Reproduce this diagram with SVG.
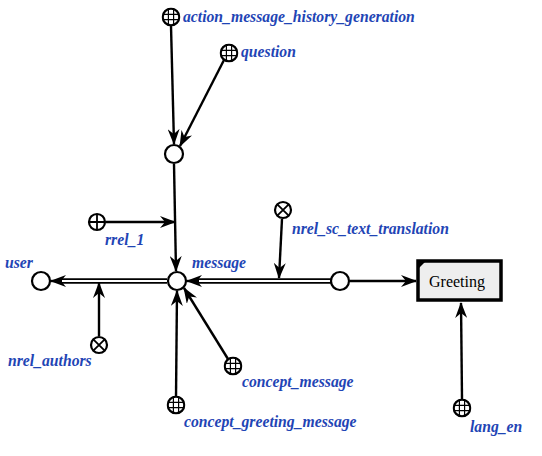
<svg xmlns="http://www.w3.org/2000/svg" width="542" height="456" viewBox="0 0 542 456">
<defs>
<style>
.lbl{font-family:"Liberation Serif","Times New Roman",serif;font-weight:bold;font-style:italic;font-size:15.7px;fill:#1f45b5}
.n{fill:#fff;stroke:#000;stroke-width:2.2}
.x{fill:none;stroke:#000;stroke-width:1.8}
.e{stroke:#000;stroke-width:2.4;fill:none}
.dbo{stroke:#000;stroke-width:5.5;fill:none}
.dbi{stroke:#fff;stroke-width:2;fill:none}
</style>
<marker id="ah" viewBox="0 0 16 12" refX="15" refY="6" markerWidth="16" markerHeight="12" markerUnits="userSpaceOnUse" orient="auto">
<path d="M0,0 L16,6 L0,12 L5,6 Z" fill="#000"/>
</marker>
<symbol id="grid" viewBox="-9.5 -9.5 19 19">
<circle r="8.3" fill="#fff" stroke="#000" stroke-width="2.2"/>
<path d="M-2.6,-7.8V7.8M2.6,-7.8V7.8M-7.8,-2.6H7.8M-7.8,2.6H7.8" stroke="#000" stroke-width="1.2"/>
</symbol>
</defs>
<rect width="542" height="456" fill="#fff"/>
<g id="connectors">
<line class="e" x1="171" y1="26" x2="174" y2="144" marker-end="url(#ah)"/>
<line class="e" x1="224" y1="60" x2="180" y2="146" marker-end="url(#ah)"/>
<line class="e" x1="174" y1="164" x2="176" y2="271" marker-end="url(#ah)"/>
<line class="e" x1="106" y1="222" x2="175" y2="222" marker-end="url(#ah)"/>
<line class="dbo" x1="167" y1="281" x2="60" y2="281"/>
<line class="dbi" x1="167" y1="281" x2="60" y2="281"/>
<line class="e" x1="62" y1="281" x2="51" y2="281" marker-end="url(#ah)"/>
<line class="e" x1="99" y1="336" x2="99" y2="283" marker-end="url(#ah)"/>
<line class="dbo" x1="331" y1="281" x2="197" y2="281"/>
<line class="dbi" x1="331" y1="281" x2="197" y2="281"/>
<line class="e" x1="199" y1="281" x2="187" y2="281" marker-end="url(#ah)"/>
<line class="e" x1="282" y1="219" x2="279" y2="278" marker-end="url(#ah)"/>
<line class="e" x1="350" y1="281" x2="416" y2="281" marker-end="url(#ah)"/>
<line class="e" x1="228" y1="359" x2="184" y2="288" marker-end="url(#ah)"/>
<line class="e" x1="176" y1="397" x2="177" y2="291" marker-end="url(#ah)"/>
<line class="e" x1="462" y1="399" x2="461" y2="303" marker-end="url(#ah)"/>
</g>
<g id="action_message_history_generation"><use href="#grid" x="161.5" y="7.5" width="19" height="19"/><text class="lbl" x="183" y="22">action_message_history_generation</text></g>
<g id="question"><use href="#grid" x="219.5" y="43.5" width="19" height="19"/><text class="lbl" x="241" y="57">question</text></g>
<g id="node_mid"><circle class="n" cx="174" cy="154" r="9"/></g>
<g id="rrel_1"><circle class="n" cx="97" cy="222" r="8"/><path class="x" d="M89,222H105M97,214V230"/><text class="lbl" x="105" y="245">rrel_1</text></g>
<g id="nrel_sc_text_translation"><circle class="n" cx="283" cy="210" r="8"/><path class="x" d="M277.3,204.3L288.7,215.7M288.7,204.3L277.3,215.7"/><text class="lbl" x="292" y="234">nrel_sc_text_translation</text></g>
<g id="message"><circle class="n" cx="177" cy="281" r="9"/><text class="lbl" x="192" y="268">message</text></g>
<g id="user"><circle class="n" cx="41" cy="281" r="9"/><text class="lbl" x="5" y="268">user</text></g>
<g id="node_right"><circle class="n" cx="340" cy="281" r="9"/></g>
<g id="greeting"><rect x="418" y="261" width="83" height="39" fill="#eee" stroke="#000" stroke-width="3.5"/><path d="M418,261h8l-8,8z" fill="#000"/><text x="457" y="287" text-anchor="middle" font-family="'Liberation Serif','Times New Roman',serif" font-size="16" fill="#000">Greeting</text></g>
<g id="nrel_authors"><circle class="n" cx="99" cy="345" r="8"/><path class="x" d="M93.3,339.3L104.7,350.7M104.7,339.3L93.3,350.7"/><text class="lbl" x="8" y="366">nrel_authors</text></g>
<g id="concept_message"><use href="#grid" x="223.5" y="356.5" width="19" height="19"/><text class="lbl" x="242" y="387">concept_message</text></g>
<g id="concept_greeting_message"><use href="#grid" x="166.5" y="395.5" width="19" height="19"/><text class="lbl" x="184" y="427">concept_greeting_message</text></g>
<g id="lang_en"><use href="#grid" x="452.5" y="398.5" width="19" height="19"/><text class="lbl" x="470" y="432">lang_en</text></g>
</svg>
